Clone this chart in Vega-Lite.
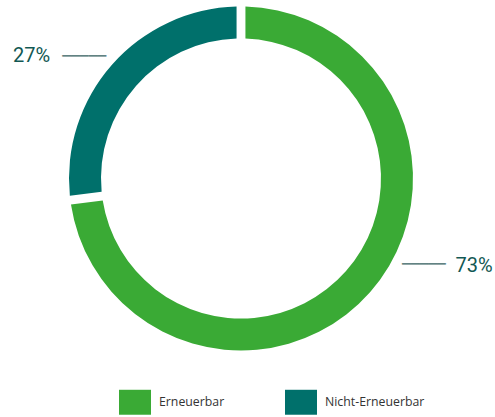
{
  "$schema": "https://vega.github.io/schema/vega-lite/v6.json",
  "width": 482,
  "height": 357,
  "padding": 0,
  "background": "white",
  "data": {"values": [
    {"cat": "Erneuerbar", "value": 73, "label": "73%"},
    {"cat": "Nicht-Erneuerbar", "value": 27, "label": "27%"}
  ]},
  "encoding": {
    "theta": {"field": "value", "type": "quantitative", "stack": true},
    "order": {"field": "cat", "sort": "ascending"}
  },
  "layer": [
    {
      "mark": {"type": "arc", "outerRadius": 172, "innerRadius": 140, "padAngle": 0.04},
      "encoding": {
        "color": {
          "field": "cat", "type": "nominal",
          "scale": {"domain": ["Erneuerbar", "Nicht-Erneuerbar"], "range": ["#3aaa35", "#00706b"]},
          "legend": {
            "title": null, "orient": "none", "legendX": 119, "legendY": 386,
            "direction": "horizontal",
            "symbolType": "M-1,-0.78H1V0.78H-1Z", "symbolSize": 1024, "symbolStrokeWidth": 0,
            "labelFont": "Open Sans", "labelFontSize": 12.3, "labelColor": "#333333",
            "labelOffset": 8, "columnPadding": 60
          }
        }
      }
    },
    {
      "mark": {"type": "text", "radius": 181, "align": "right", "baseline": "middle", "dx": 1, "dy": -2, "font": "DejaVu Sans Mono", "fontSize": 14.6, "color": "#3d6666"},
      "encoding": {"text": {"condition": {"test": "datum.cat === 'Nicht-Erneuerbar'", "value": "─────"}, "value": ""}}
    },
    {
      "mark": {"type": "text", "radius": 181, "align": "center", "baseline": "middle", "dx": -73.7, "dy": -2.8, "font": "Roboto", "fontSize": 20, "color": "#125853"},
      "encoding": {"text": {"condition": {"test": "datum.cat === 'Nicht-Erneuerbar'", "field": "label"}, "value": ""}}
    },
    {
      "mark": {"type": "text", "radius": 181, "align": "left", "baseline": "middle", "dx": 25.2, "dy": -33.2, "font": "DejaVu Sans Mono", "fontSize": 14.6, "color": "#3d6666"},
      "encoding": {"text": {"condition": {"test": "datum.cat === 'Erneuerbar'", "value": "─────"}, "value": ""}}
    },
    {
      "mark": {"type": "text", "radius": 181, "align": "center", "baseline": "middle", "dx": 97.2, "dy": -31.7, "font": "Roboto", "fontSize": 20, "color": "#125853"},
      "encoding": {"text": {"condition": {"test": "datum.cat === 'Erneuerbar'", "field": "label"}, "value": ""}}
    }
  ],
  "config": {"view": {"stroke": null}}
}
